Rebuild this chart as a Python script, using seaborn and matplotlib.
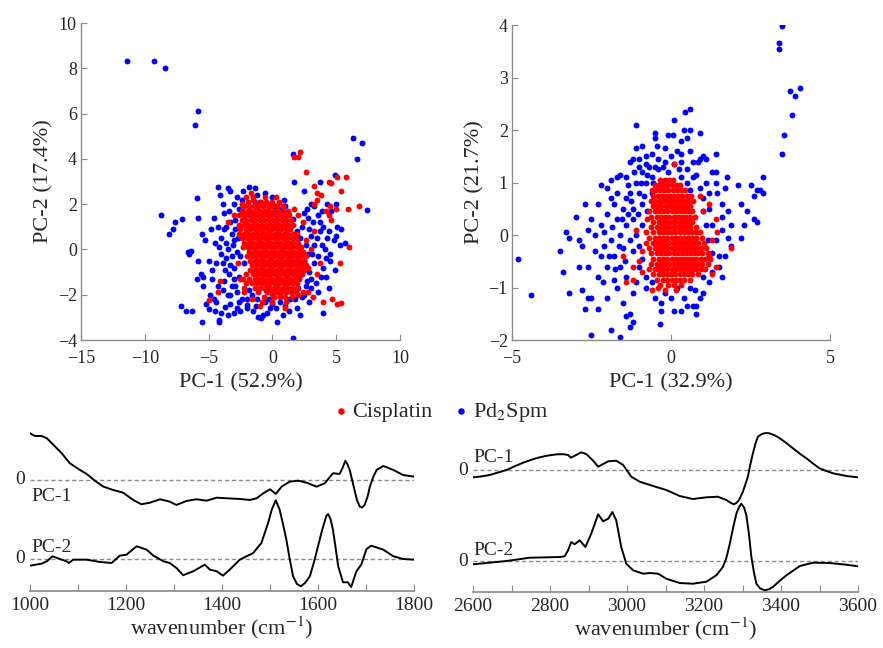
"""
PCA scores (top) and loadings (bottom) for Cisplatin vs Pd2Spm
"""
import numpy as np
import pandas as pd
import matplotlib
matplotlib.use("Agg")
import matplotlib.pyplot as plt
import seaborn as sns
from matplotlib.ticker import MultipleLocator

# ---------------- scores, fingerprint region (PC-1 52.9%, PC-2 17.4%) ----------------
pd2spm_fp = [
    (-11.4, 8.3), (-9.3, 8.3), (-8.4, 8.0), (-5.8, 6.1), (-6.1, 5.5), (6.3, 4.9), (7.0, 4.7),
    (6.6, 4.0), (1.6, 4.2), (1.7, 3.0), (4.9, 3.3), (3.7, 3.0), (7.4, 1.75), (-8.7, 1.5),
    (-7.6, 1.2), (-7.1, 1.35), (-7.8, 0.9), (-8.1, 0.7), (-5.9, 2.25), (-5.8, 1.4),
    (-4.3, 2.75), (-3.5, 2.7), (-3.3, 2.6), (-1.8, 2.75), (-0.6, 2.5), (-6.6, -0.1),
    (-6.4, -0.05), (-6.5, -0.2), (-5.5, 0.7), (-5.3, 0.4), (-5.0, -0.5), (-4.7, -0.9),
    (-5.6, -1.1), (-5.4, -1.2), (-5.4, -1.6), (-5.9, -1.3), (-4.9, -2.0), (-5.2, -2.4),
    (-7.2, -2.5), (-6.8, -2.7), (-6.3, -2.7), (-5.5, -3.2), (-4.2, -3.2), (-4.2, -3.1),
    (-5.0, -2.65), (-4.0, -2.8), (-3.5, -2.9), (-3.0, -2.8), (-2.5, -2.7), (-2.0, -2.6),
    (-1.5, -2.7), (-1.1, -3.0), (-0.7, -2.9), (-0.9, -3.05), (-0.4, -2.8), (0.4, -3.2),
    (1.6, -3.9), (2.2, -2.9), (4.0, -2.8), (2.5, -2.0), (3.0, -1.7), (4.2, -1.2), (4.0, -0.8),
    (4.5, -0.2), (5.3, 0.2), (5.1, 1.0), (5.4, 0.9), (3.5, 0.5), (4.0, 1.0), (3.7, 1.2),
    (2.8, 1.4), (2.3, 1.0), (1.6, 1.35), (5.0, 2.0), (4.6, 1.7), (4.3, 2.0), (5.7, 0.3),
    (3.0, 2.0), (2.5, 2.6), (3.3, 1.9), (-2.7, 0.5), (-3.2, 0.7), (-3.8, 0.9), (-4.3, 1.0),
    (-4.0, 0.5), (-3.6, 0.3), (-4.5, 0.3), (-4.0, -0.2), (-3.6, -0.4), (-3.2, -0.3),
    (-2.8, -0.1), (-3.0, -0.8), (-3.4, -1.1), (-3.8, -1.4), (-4.3, -1.6), (-3.9, -1.8),
    (-3.5, -2.0), (-3.2, -1.6), (-2.8, -1.9), (-2.4, -2.2), (-2.0, -2.2), (-1.6, -2.0),
    (-1.2, -2.2), (-0.6, -2.3), (0.0, -2.4), (0.6, -2.3), (1.0, -2.5), (1.4, -2.2),
    (1.8, -2.2), (2.3, -2.1), (2.7, -1.4), (2.9, -1.0), (3.3, -0.6), (3.1, -0.2), (2.6, 0.2),
    (3.0, 0.6), (2.2, 0.5), (1.9, 0.8), (3.6, -0.3), (3.9, 0.2), (4.4, 0.8), (3.4, -1.5),
    (3.8, -1.2), (-2.2, 1.5), (-2.6, 1.8), (-3.0, 2.0), (-2.4, 2.2), (-1.2, 2.4), (-0.4, 2.0),
    (0.2, 1.9), (0.5, 1.8), (-1.7, 1.0), (-3.8, 1.6), (-4.1, 2.4), (-3.9, 2.0), (-3.3, 1.2),
    (-1.0, -1.4), (-1.5, -1.0), (-2.2, -0.6), (-1.8, -1.8), (0.3, -1.0), (1.2, -1.5),
    (1.8, -0.5), (2.1, -1.2), (-0.5, -1.8), (0.9, -1.8), (-2.0, 0.2), (-1.3, 0.6), (2.0, -1.7),
    (-3.3, -2.4), (-2.8, -2.6), (-4.6, -2.2), (-4.5, -2.7), (-3.7, -2.55), (0.8, -2.9),
    (-0.2, -2.6), (4.3, 0.5), (4.8, 0.4), (4.5, -0.5), (5.0, 0.6), (3.6, 1.5), (-4.8, 0.9),
    (-4.4, -0.6), (-3.1, 0.2), (-2.6, -1.2), (-3.7, -0.9), (-4.6, 1.4), (-3.4, 1.7),
    (-2.9, 1.3), (1.2, 1.6), (1.0, 1.9), (2.5, -0.5), (2.9, -2.3), (3.6, -1.9), (3.3, 0.2),
    (4.2, -0.4), (4.9, -0.9), (4.4, -1.7), (-1.0, 2.1), (0.8, 1.5), (2.7, 1.8), (3.9, 1.7),
    (-3.0, -1.3), (-2.5, -0.3), (-2.9, 0.9), (2.4, -0.9), (2.8, -0.2), (2.1, 0.1),
    (-3.5, 0.0), (-3.9, -0.6), (-3.3, -0.7), (-4.2, 0.1), (-3.0, 0.4), (-3.6, 1.0),
    (-2.9, -1.6), (-3.3, -2.0), (-2.6, -2.3), (-2.0, -2.45), (-1.3, -2.5), (-0.3, -2.2),
    (0.3, -2.6), (1.3, -2.7), (1.9, -2.6), (2.6, -1.6), (3.0, -1.3), (3.2, 1.2), (2.9, 0.9),
    (2.5, 1.6), (4.1, 0.0), (3.7, 0.8), (-2.3, 2.6), (-2.8, 2.3), (-1.4, 2.7), (0.0, 2.3),
    (0.9, 2.2), (-4.7, -1.3), (-4.4, -2.3), (-5.8, -0.5),
]

cisplatin_fp_extra = [
    (1.7, 4.1), (2.2, 4.3), (2.0, 4.1), (2.6, 3.4), (3.3, 2.8), (3.5, 2.5), (4.4, 3.0),
    (4.6, 2.95), (5.1, 3.2), (5.8, 3.2), (5.4, 2.6), (5.9, 1.8), (6.8, 1.9), (5.0, 1.8),
    (4.6, 1.3), (4.2, 1.7), (4.5, 1.9), (3.5, 2.2), (3.8, 2.4), (3.3, 2.0), (1.7, 1.8),
    (2.0, 1.5), (6.0, 0.1), (5.3, -0.6), (4.7, -2.2), (5.1, -2.4), (5.4, -2.35), (4.0, -2.3),
    (3.2, -2.1), (2.8, -1.9), (1.0, -2.6), (-5.0, -2.25), (-4.1, -1.4), (-4.3, -1.9),
    (-2.1, 2.3), (-2.4, 2.0), (-1.7, 2.5), (-1.5, 2.2), (-3.0, 1.5), (-3.5, 1.2), (-2.7, -0.6),
    (-2.5, -1.3), (-2.2, -1.9), (-1.6, -2.2), (-0.8, -2.3), (0.0, -1.95), (0.6, -2.0),
    (1.5, -2.1), (2.0, -2.0), (2.8, -0.8), (3.0, 0.0), (2.6, 0.4), (3.3, 0.8), (4.4, 1.5),
    (3.7, -0.6), (3.5, -1.1), (2.4, 1.2), (-1.0, -2.5),
]

# dense core, read row by row: (PC-2, [PC-1 values])
cisplatin_fp_core = [
    (2.3, [-1.5, -0.6, 0.3]),
    (2.1, [-1.9, -1.4, -0.9, -0.5, 0.0, 0.5]),
    (1.9, [-2.2, -1.8, -1.45, -1.1, -0.7, -0.35, 0.0, 0.4, 0.8]),
    (1.7, [-2.4, -2.0, -1.65, -1.3, -0.95, -0.6, -0.25, 0.1, 0.45, 0.85, 1.2]),
    (1.5, [-2.6, -2.2, -1.85, -1.5, -1.15, -0.8, -0.45, -0.1, 0.25, 0.6, 0.95, 1.3]),
    (1.3, [-2.4, -2.05, -1.7, -1.35, -1.0, -0.65, -0.3, 0.05, 0.4, 0.75, 1.1, 1.45]),
    (1.1, [-2.65, -2.25, -1.9, -1.55, -1.2, -0.85, -0.5, -0.15, 0.2, 0.55, 0.9, 1.25, 1.6]),
    (0.9, [-2.5, -2.1, -1.75, -1.4, -1.05, -0.7, -0.35, 0.0, 0.35, 0.7, 1.05, 1.4]),
    (0.7, [-2.6, -2.25, -1.9, -1.55, -1.2, -0.85, -0.5, -0.15, 0.2, 0.55, 0.9, 1.25, 1.6,
           1.95]),
    (0.5, [-2.35, -2.0, -1.65, -1.3, -0.95, -0.6, -0.25, 0.1, 0.45, 0.8, 1.15, 1.5, 1.85]),
    (0.3, [-2.2, -1.85, -1.5, -1.15, -0.8, -0.45, -0.1, 0.25, 0.6, 0.95, 1.3, 1.65, 2.0]),
    (0.1, [-2.3, -1.95, -1.6, -1.25, -0.9, -0.55, -0.2, 0.15, 0.5, 0.85, 1.2, 1.55, 1.9,
           2.25]),
    (-0.1, [-1.8, -1.45, -1.1, -0.75, -0.4, -0.05, 0.3, 0.65, 1.0, 1.35, 1.7, 2.05, 2.4]),
    (-0.3, [-2.0, -1.6, -1.25, -0.9, -0.55, -0.2, 0.15, 0.5, 0.85, 1.2, 1.55, 1.9, 2.25,
            2.6]),
    (-0.5, [-1.75, -1.4, -1.05, -0.7, -0.35, 0.0, 0.35, 0.7, 1.05, 1.4, 1.75, 2.1, 2.45]),
    (-0.7, [-1.6, -1.25, -0.9, -0.55, -0.2, 0.15, 0.5, 0.85, 1.2, 1.55, 1.9, 2.25, 2.6]),
    (-0.9, [-1.75, -1.4, -1.05, -0.7, -0.35, 0.0, 0.35, 0.7, 1.05, 1.4, 1.75, 2.1, 2.45]),
    (-1.1, [-2.1, -1.55, -1.2, -0.85, -0.5, -0.15, 0.2, 0.55, 0.9, 1.25, 1.6, 1.95, 2.3]),
    (-1.3, [-2.3, -1.85, -1.4, -1.05, -0.7, -0.35, 0.0, 0.35, 0.7, 1.05, 1.4, 1.75, 2.1]),
    (-1.5, [-2.05, -1.6, -1.2, -0.85, -0.5, -0.15, 0.2, 0.55, 0.9, 1.25, 1.6, 1.95]),
    (-1.7, [-2.25, -1.35, -0.95, -0.6, -0.25, 0.1, 0.45, 0.8, 1.15, 1.5, 1.9]),
    (-1.9, [-1.15, -0.4, 0.0, 0.35, 0.7, 1.05, 1.45, 1.85, 2.4]),
    (-2.1, [-0.65, 0.15, 0.6, 1.0, 1.5]),
    (-2.3, [0.0, 1.1]),
]

# ---------------- scores, high-wavenumber region (PC-1 32.9%, PC-2 21.7%) ----------------
pd2spm_hw = [
    (3.5, 3.98), (3.4, 3.65), (3.4, 3.55), (3.75, 2.75), (3.9, 2.65), (4.05, 2.8), (3.8, 2.28),
    (3.55, 1.9), (3.5, 1.55), (-4.8, -0.45), (-4.4, -1.15), (-3.5, -0.3), (-3.4, -0.7),
    (-3.2, -0.05), (-3.3, 0.05), (-2.9, -0.1), (-3.2, -1.1), (-2.8, -1.05), (-2.7, -1.4),
    (-2.6, -1.2), (-2.5, -1.2), (-2.5, -1.9), (-2.3, -1.4), (-1.9, -1.8), (-1.6, -1.95),
    (-1.4, -1.55), (-1.3, -1.5), (-1.2, -1.65), (-1.3, -1.75), (-0.35, -1.7), (0.1, -1.45),
    (0.3, -1.45), (0.7, -1.35), (0.8, -1.35), (0.8, -1.5), (0.45, 2.35), (0.6, 2.4),
    (0.1, 2.2), (-1.1, 2.1), (0.4, 2.0), (0.5, 1.85), (-0.5, 1.95), (-0.5, 1.85), (-0.1, 1.9),
    (0.05, 1.9), (1.4, 1.55), (2.1, 0.95), (2.5, 0.95), (2.9, 1.1), (2.8, 0.85), (2.9, 0.8),
    (2.7, 0.85), (2.6, 0.75), (2.2, 0.6), (2.4, 0.45), (2.6, 0.3), (2.7, 0.25), (2.3, 0.2),
    (1.9, 0.2), (1.8, -0.05), (2.2, -0.05), (1.7, -0.4), (1.9, -0.2), (1.6, 0.35), (1.75, 1.1),
    (1.4, 1.2), (1.3, 1.2), (1.0, 1.5), (1.1, 1.45), (0.85, 1.4), (-2.0, 0.4), (-2.2, 0.2),
    (-2.5, 0.3), (-2.4, -0.3), (-2.2, -0.4), (-2.0, -0.6), (-1.8, -0.4), (-2.0, 0.9),
    (-1.8, 0.6), (-1.7, 1.1), (-1.6, 1.15), (-1.4, 1.1), (-1.3, 1.4), (-1.2, 1.45),
    (-1.0, 1.3), (-0.8, 1.5), (-0.6, 1.55), (-0.4, 1.45), (-0.2, 1.4), (0.1, 1.35), (0.3, 1.4),
    (0.5, 1.25), (0.7, 1.4), (0.9, 1.45), (-1.6, 0.0), (-1.5, -0.25), (-1.4, 0.2), (-1.2, 0.5),
    (-1.0, 0.8), (-0.8, 1.0), (-0.6, 1.1), (-0.3, 1.0), (0.3, 1.1), (0.5, 1.0), (0.9, 0.9),
    (1.0, 0.7), (1.2, 0.5), (1.3, 0.2), (1.4, -0.1), (1.5, -0.4), (1.3, -0.7), (1.2, -0.9),
    (1.0, -1.1), (0.6, -1.0), (0.2, -1.0), (-0.2, -1.1), (-0.5, -1.2), (-0.8, -1.0),
    (-1.1, -0.9), (-1.4, -0.8), (-1.8, -0.85), (-1.7, -1.0), (-2.0, -1.2), (-1.6, -0.6),
    (-1.2, -0.3), (-1.1, 0.0), (-1.3, 0.8), (-1.1, 1.0), (-0.9, 0.6), (-1.5, 0.5), (-1.7, 0.3),
    (-1.9, -0.1), (-1.0, -0.6), (0.8, 1.15), (1.1, 1.0), (-0.4, 1.25), (-0.1, 1.2), (0.2, 1.6),
    (-0.7, 1.3), (-0.9, 1.2), (-1.0, 1.45), (-0.2, 1.65), (0.3, 1.55), (-0.6, 0.8), (1.5, -0.6),
    (1.6, -0.8), (1.2, -0.4), (0.9, -1.2), (0.4, -1.2), (-0.3, -1.3), (-1.5, -1.3),
    (-1.2, -1.1), (-2.3, -0.8), (-2.6, -0.6), (-2.8, -0.2), (-2.6, 0.1), (-1.9, 0.7),
    (-2.3, 0.6), (-1.4, 0.7), (-1.2, 0.3), (1.4, 1.0), (1.6, 0.6), (1.2, 0.8), (0.6, 0.85),
    (-0.8, 1.35), (-0.5, 1.3), (-0.25, 1.3), (0.0, 1.5), (0.25, 1.25), (-1.15, 1.2),
    (-0.95, 1.0), (-0.75, 1.15), (-0.55, 1.0), (-1.35, 0.95), (-1.25, 0.65), (-1.05, 0.4),
    (-0.85, 0.75), (-0.75, 0.45), (-0.9, 0.2), (-1.0, -0.2), (-0.9, -0.45), (-0.8, -0.8),
    (-0.6, -0.9), (1.0, 0.45), (1.1, 0.2), (1.15, -0.1), (1.3, -0.35), (1.0, -0.8),
    (0.75, -1.05), (-1.7, 0.8), (-2.1, 0.05), (-0.45, 1.7), (0.6, 1.6), (0.7, 1.1),
    (-2.1, -0.2), (-1.85, 0.15), (-1.65, -0.2), (-1.45, -0.5), (-1.3, -0.1), (-1.55, 0.3),
    (-1.75, -0.65), (-2.15, -0.9), (-1.95, -0.4), (-1.35, 0.4), (-2.4, 0.0), (-2.9, -0.6),
    (-3.0, 0.35), (-2.7, 0.6), (-2.2, 0.95), (-1.9, 1.05), (-0.3, -1.45), (0.0, -1.2),
    (0.5, -1.35), (1.45, 0.8), (1.7, 0.9), (1.8, 0.45), (1.6, 0.1), (-1.1, 1.65),
    (-0.9, 1.7), (0.6, 2.0), (0.9, 1.95), (0.3, 1.8),
]

cisplatin_hw_extra = [
    (0.1, 1.35), (1.2, 0.6), (1.9, -0.25), (1.4, 0.3), (1.45, 0.05), (1.3, -0.1), (1.2, -0.4),
    (1.4, -0.6), (-1.5, -0.4), (-1.4, -0.9), (-1.2, -0.85), (-0.9, -0.7), (-1.0, -0.5),
    (-0.9, -0.3), (-1.1, 0.1), (-0.6, -1.05), (-0.4, -1.0), (-0.5, 0.55), (-0.75, 0.3),
    (-0.8, 0.05), (-1.2, -0.6), (1.0, 0.45), (0.9, 0.75), (1.3, -0.75),
]

cisplatin_hw_core = [
    (1.05, [-0.33, -0.2, -0.07, 0.06]),
    (0.95, [-0.5, -0.37, -0.24, -0.11, 0.02, 0.15, 0.28]),
    (0.85, [-0.6, -0.47, -0.34, -0.21, -0.08, 0.05, 0.18, 0.31, 0.44]),
    (0.75, [-0.55, -0.42, -0.29, -0.16, -0.03, 0.1, 0.23, 0.36, 0.49, 0.62]),
    (0.65, [-0.62, -0.49, -0.36, -0.23, -0.1, 0.03, 0.16, 0.29, 0.42, 0.55, 0.68]),
    (0.55, [-0.56, -0.43, -0.3, -0.17, -0.04, 0.09, 0.22, 0.35, 0.48, 0.61]),
    (0.45, [-0.7, -0.5, -0.37, -0.24, -0.11, 0.02, 0.15, 0.28, 0.41, 0.54, 0.67]),
    (0.35, [-0.63, -0.44, -0.31, -0.18, -0.05, 0.08, 0.21, 0.34, 0.47, 0.6, 0.75]),
    (0.25, [-0.57, -0.38, -0.25, -0.12, 0.01, 0.14, 0.27, 0.4, 0.53, 0.66]),
    (0.15, [-0.63, -0.44, -0.31, -0.18, -0.05, 0.08, 0.21, 0.34, 0.47, 0.6, 0.8]),
    (0.05, [-0.57, -0.38, -0.25, -0.12, 0.01, 0.14, 0.27, 0.4, 0.53, 0.66, 0.79, 0.92]),
    (-0.05, [-0.7, -0.5, -0.37, -0.24, -0.11, 0.02, 0.15, 0.28, 0.41, 0.54, 0.67, 0.8,
             0.98]),
    (-0.15, [-0.8, -0.57, -0.44, -0.31, -0.18, -0.05, 0.08, 0.21, 0.34, 0.47, 0.6, 0.73,
             0.86, 1.04]),
    (-0.25, [-0.7, -0.5, -0.37, -0.24, -0.11, 0.02, 0.15, 0.28, 0.41, 0.54, 0.67, 0.8, 0.93,
             1.1]),
    (-0.35, [-0.63, -0.44, -0.31, -0.18, -0.05, 0.08, 0.21, 0.34, 0.47, 0.6, 0.73, 0.86,
             0.99, 1.15]),
    (-0.45, [-0.57, -0.37, -0.24, -0.11, 0.02, 0.15, 0.28, 0.41, 0.54, 0.67, 0.8, 0.93,
             1.06, 1.22]),
    (-0.55, [-0.63, -0.44, -0.31, -0.18, -0.05, 0.08, 0.21, 0.34, 0.47, 0.6, 0.73, 0.86,
             0.99, 1.15]),
    (-0.65, [-0.7, -0.5, -0.37, -0.24, -0.11, 0.02, 0.15, 0.28, 0.41, 0.54, 0.67, 0.8, 0.93,
             1.06]),
    (-0.75, [-0.57, -0.38, -0.25, -0.12, 0.01, 0.14, 0.27, 0.4, 0.53, 0.66, 0.85]),
    (-0.85, [-0.45, -0.24, -0.11, 0.02, 0.15, 0.28, 0.41, 0.6]),
    (-0.95, [-0.35, -0.1, 0.1, 0.3]),
    (-1.05, [-0.2, 0.15]),
]

# ---------------- loadings, 1000-1800 cm-1 ----------------
wn_fp_pc1 = [1000, 1010, 1024, 1035, 1049, 1066, 1083, 1104, 1118, 1135, 1153, 1173, 1194,
             1215, 1232, 1250, 1271, 1291, 1305, 1326, 1347, 1368, 1389, 1409, 1437, 1458,
             1472, 1486, 1500, 1512, 1524, 1541, 1559, 1576, 1597, 1614, 1631, 1645, 1651,
             1657, 1661, 1666, 1671, 1676, 1681, 1687, 1692, 1697, 1703, 1708, 1715, 1722,
             1736, 1757, 1777, 1800]
load_fp_pc1 = [46.7, 44, 44, 41.7, 35, 26.7, 16.7, 10, 6, -0.7, -6.7, -10, -12.7, -20,
               -24.3, -22.7, -19.3, -21.7, -25, -21, -19.3, -20.7, -17.7, -18.3, -19, -20,
               -18.3, -13.3, -9.3, -14, -6.7, -1.7, -0.7, -2.7, -6.7, -3.3, 6.7, 6, 12,
               19.3, 16, 10, 0, -10, -20, -26.7, -27.5, -25, -17, -6.7, 3, 10,
               14, 10, 5, 3.3]
wn_fp_pc2 = [1000, 1024, 1035, 1047, 1062, 1076, 1081, 1090, 1118, 1146, 1170, 1187, 1201,
             1222, 1243, 1257, 1278, 1291, 1305, 1319, 1340, 1364, 1375, 1389, 1402, 1416,
             1437, 1465, 1482, 1496, 1504, 1512, 1520, 1527, 1534, 1541, 1548, 1556, 1564,
             1573, 1583, 1591, 1600, 1608, 1617, 1621, 1626, 1631, 1637, 1642, 1652, 1662,
             1669, 1680, 1690, 1701, 1711, 1736, 1757, 1777, 1800]
load_fp_pc2 = [-6.7, -4.7, -2.3, 2.7, 0, -2.3, -4, -0.7, -0.7, -3, -4, 3.3, 4.3, 12.7, 9.3,
               3.3, -2.3, -4, -9, -16.3, -12.3, -5.7, -10.7, -12.3, -16.7, -10.7, -0.7, 6,
               16, 36, 50, 58.7, 49.3, 35, 19.3, 0, -17.3, -25, -27.3, -24, -17.3, -4, 12.7,
               28, 42.7, 45, 40, 29.3, 10, -7.3, -23.3, -23.3, -28, -12.3, -5.7, 10, 13.3,
               9.3, 2.7, 0, -0.7]

# ---------------- loadings, 2600-3600 cm-1 ----------------
wn_hw_pc1 = [2600, 2620, 2643, 2665, 2687, 2708, 2730, 2752, 2773, 2795, 2817, 2835, 2847,
             2854, 2868, 2881, 2894, 2912, 2925, 2938, 2951, 2972, 2990, 3011, 3033, 3068,
             3102, 3137, 3171, 3206, 3236, 3258, 3268, 3277, 3284, 3291, 3301, 3314, 3320,
             3327, 3334, 3340, 3350, 3360, 3370, 3385, 3397, 3414, 3431, 3450, 3466, 3483,
             3500, 3518, 3535, 3570, 3600]
load_hw_pc1 = [-7.3, -6.5, -5, -2.5, 0, 3.7, 7.3, 10.3, 12.7, 14.5, 15.7, 15.8, 15, 12.3, 15,
               17.7, 16, 9.3, 3.3, 6, 8.7, 9.3, 5, -6.7, -11.7, -16, -20, -26, -29, -27.3,
               -26.7, -30, -32.5, -34.3, -33, -30, -21.7, -6.7, 5, 16.7, 27, 33.3, 36, 37,
               36.7, 34.5, 31.7, 27, 21.7, 16, 11.7, 6.5, 1.7, -1, -3.3, -6, -7.3]
wn_hw_pc2 = [2600, 2687, 2747, 2825, 2838, 2847, 2855, 2864, 2877, 2892, 2907, 2925, 2938,
             2951, 2962, 2972, 2985, 2998, 3016, 3042, 3059, 3081, 3102, 3137, 3171, 3206,
             3232, 3249, 3258, 3267, 3276, 3284, 3291, 3297, 3304, 3310, 3317, 3323, 3330,
             3336, 3346, 3358, 3368, 3379, 3396, 3414, 3449, 3483, 3526, 3570, 3600]
load_hw_pc2 = [-3.3, 0, 3.3, 4, 4.7, 10.7, 19, 16.7, 20.7, 14, 27.3, 46.7, 39.7, 42.3, 49,
               40.7, 14, -2.7, -9.3, -12.7, -12, -12.7, -17.7, -22, -22.7, -20.7, -14.3, -6,
               3, 17.3, 34, 47.3, 54, 57.3, 53.5, 45.7, 26, 4, -12, -22.7, -27.5, -29.3,
               -28.3, -26, -20, -14.3, -5, -1.7, -2, -3.7, -5.3]

# vertical offset of the PC-1 trace above PC-2 in each loading panel
pc1_shift_fp = 79
pc1_shift_hw = 91


def core_points(rows):
    return [(x, y) for y, xs in rows for x in xs]


sns.set_theme(style="white")
plt.rcParams["font.family"] = ["Liberation Serif", "DejaVu Serif"]
plt.rcParams["mathtext.fontset"] = "stix"

GRAY = "#8c8c8c"
BLUE = "#0000ff"
RED = "#ff0000"
DOT = 18

fig = plt.figure(figsize=(8.83, 6.48), dpi=100)
ax_s1 = fig.add_axes([0.0917, 0.4753, 0.3613, 0.4892])
ax_s2 = fig.add_axes([0.5798, 0.4753, 0.3602, 0.4861])
ax_l1 = fig.add_axes([0.034, 0.0880, 0.4349, 0.2562])
ax_l2 = fig.add_axes([0.5357, 0.0864, 0.4360, 0.2577])


def scatter_panel(ax, blue_pts, red_pts, xlim, ylim, xstep, ystep, xlabel, ylabel):
    b = pd.DataFrame(blue_pts, columns=["pc1", "pc2"])
    r = pd.DataFrame(red_pts, columns=["pc1", "pc2"])
    sns.scatterplot(data=b, x="pc1", y="pc2", color=BLUE, s=DOT, linewidth=0,
                    ax=ax, label="Pd$_2$Spm")
    sns.scatterplot(data=r, x="pc1", y="pc2", color=RED, s=DOT, linewidth=0,
                    ax=ax, label="Cisplatin")
    ax.set_xlim(*xlim)
    ax.set_ylim(*ylim)
    ax.xaxis.set_major_locator(MultipleLocator(xstep))
    ax.yaxis.set_major_locator(MultipleLocator(ystep))
    ax.set_xlabel(xlabel, fontsize=16, labelpad=5)
    ax.set_ylabel(ylabel, fontsize=16, labelpad=3)
    for side in ["top", "right"]:
        ax.spines[side].set_visible(False)
    for side in ["left", "bottom"]:
        ax.spines[side].set_color(GRAY)
        ax.spines[side].set_linewidth(1.0)
    ax.tick_params(direction="in", length=4, width=0.8, color=GRAY,
                   labelsize=13, left=True, bottom=True)
    ax.tick_params(axis="x", pad=7)
    ax.tick_params(axis="y", pad=3)
    ax.get_legend().remove()


scatter_panel(ax_s1, pd2spm_fp, core_points(cisplatin_fp_core) + cisplatin_fp_extra,
              (-15, 10), (-4, 10), 5, 2, "PC-1 (52.9%)", "PC-2 (17.4%)")
scatter_panel(ax_s2, pd2spm_hw, core_points(cisplatin_hw_core) + cisplatin_hw_extra,
              (-5, 5), (-2, 4), 5, 1, "PC-1 (32.9%)", "PC-2 (21.7%)")


def loading_panel(ax, wn1, l1, wn2, l2, shift, xlim, ylim, pc1_above):
    d1 = pd.DataFrame({"wn": wn1, "v": np.array(l1) + shift})
    d2 = pd.DataFrame({"wn": wn2, "v": l2})
    for y0 in (0, shift):
        ax.axhline(y0, color=GRAY, lw=1.0, ls=(0, (3, 2)), zorder=1)
    sns.lineplot(data=d1, x="wn", y="v", color="black", lw=1.4, ax=ax, zorder=3)
    sns.lineplot(data=d2, x="wn", y="v", color="black", lw=1.4, ax=ax, zorder=3)
    ax.set_xlim(*xlim)
    ax.set_ylim(*ylim)
    ax.set_yticks([])
    ax.set_ylabel("")
    ax.xaxis.set_major_locator(MultipleLocator(200))
    ax.xaxis.set_minor_locator(MultipleLocator(100))
    for side in ["top", "right", "left"]:
        ax.spines[side].set_visible(False)
    ax.spines["bottom"].set_color(GRAY)
    ax.tick_params(axis="x", which="both", direction="in", length=5, width=0.8,
                   color=GRAY, labelsize=14, pad=4, bottom=True)
    ax.set_xlabel("wavenumber (cm$^{-1}$)", fontsize=16, labelpad=1)
    ax.patch.set_alpha(0)
    trans = ax.get_yaxis_transform()
    for y0 in (0, shift):
        ax.text(-0.012, y0, "0", transform=trans, ha="right", va="center", fontsize=14)
    x0 = xlim[0]
    if pc1_above:
        ax.text(x0 + 2, shift + 13, "PC-1", ha="left", va="center", fontsize=14)
    else:
        ax.text(x0 + 2, shift - 17, "PC-1", ha="left", va="center", fontsize=14)
    ax.text(x0 + 2, 11, "PC-2", ha="left", va="center", fontsize=14)


loading_panel(ax_l1, wn_fp_pc1, load_fp_pc1, wn_fp_pc2, load_fp_pc2, pc1_shift_fp,
              (1000, 1800), (-32, 134), pc1_above=False)
loading_panel(ax_l2, wn_hw_pc1, load_hw_pc1, wn_hw_pc2, load_hw_pc2, pc1_shift_hw,
              (2600, 3600), (-31, 136), pc1_above=True)

handles, labels = ax_s1.get_legend_handles_labels()
order = [labels.index("Cisplatin"), labels.index("Pd$_2$Spm")]
fig.legend([handles[i] for i in order], [labels[i] for i in order],
           loc="center", bbox_to_anchor=(0.497, 0.363), ncol=2, frameon=False,
           fontsize=16, markerscale=1.1, handletextpad=0.0, columnspacing=0.8,
           handlelength=1.0)

fig.savefig("out.png", dpi=100)
